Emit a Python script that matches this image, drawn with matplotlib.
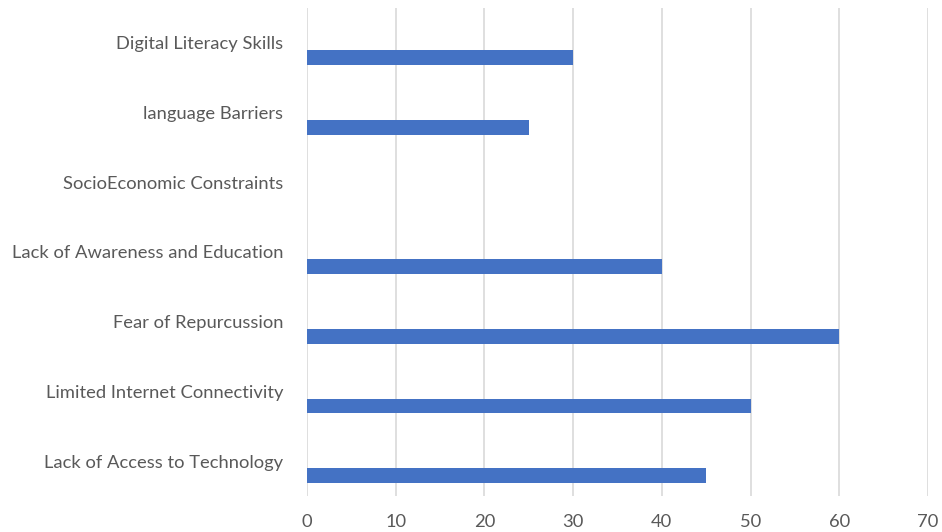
import matplotlib
matplotlib.use('Agg')
import matplotlib.pyplot as plt

categories = ['Lack of Access to Technology', 'Limited Internet Connectivity',
              'Fear of Repurcussion', 'Lack of Awareness and Education',
              'SocioEconomic Constraints', 'language Barriers',
              'Digital Literacy Skills']
values = [45, 50, 60, 40, 0, 25, 30]
xticks = [0, 10, 20, 30, 40, 50, 60, 70]

plt.rcParams['font.family'] = ['Lato', 'DejaVu Sans']

fig = plt.figure(figsize=(9.42, 5.32), dpi=100)
ax = fig.add_axes([307 / 942, 1 - 496 / 532, (928 - 307) / 942, (496 - 8) / 532])

pos = list(range(len(categories)))
# bars sit just below the category centre, like an Excel clustered bar
ax.barh([p - 0.21 for p in pos], values, height=0.21, color='#4472C4', zorder=3)

ax.set_xlim(0, 70)
ax.set_ylim(-0.5, len(categories) - 0.5)
ax.set_xticks(xticks)
ax.set_yticks(pos)
ax.set_yticklabels(categories)
ax.grid(axis='x', color='#d9d9d9', linewidth=1.2, zorder=0)
for s in ax.spines.values():
    s.set_visible(False)
ax.tick_params(axis='both', length=0, labelsize=13.2, labelcolor='#595959')
ax.tick_params(axis='y', pad=17)
ax.tick_params(axis='x', pad=13)

fig.savefig('out.png', dpi=100)
